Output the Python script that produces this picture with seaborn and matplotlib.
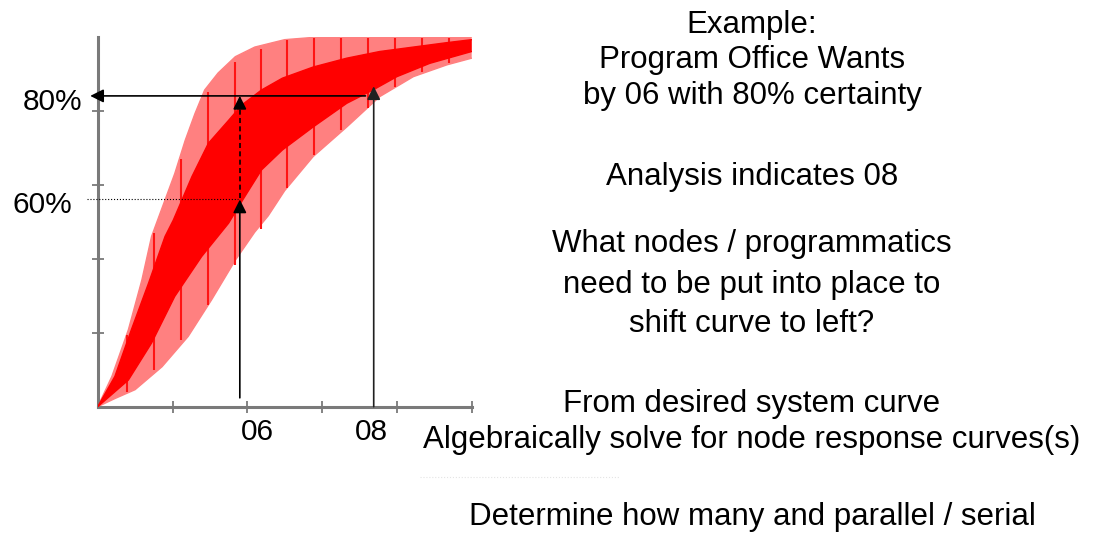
import numpy as np
import matplotlib.pyplot as plt
import seaborn as sns

# ------------------------------------------------------------------
# Dados (unidade = intervalo entre ticks, eixo 0..5)
# ------------------------------------------------------------------
light_upper_x = [0, 0.19, 0.41, 0.59, 0.72, 0.80, 1.03, 1.17, 1.30, 1.43, 1.61, 1.84, 2.10, 2.50, 3.00, 4.00, 5.00]
light_upper_y = [0, 0.41, 1.04, 1.71, 2.30, 2.52, 3.15, 3.60, 3.96, 4.28, 4.51, 4.73, 4.86, 4.96, 5.00, 5.00, 5.00]

light_lower_x = [0, 0.23, 0.50, 0.86, 1.21, 1.52, 1.84, 2.10, 2.28, 2.50, 2.88, 3.33, 3.77, 4.22, 4.67, 5.00]
light_lower_y = [0, 0.11, 0.23, 0.54, 0.95, 1.44, 1.98, 2.36, 2.58, 2.92, 3.38, 3.78, 4.19, 4.46, 4.62, 4.71]

dark_upper_x = [0, 0.23, 0.45, 0.68, 0.90, 1.01, 1.26, 1.48, 1.75, 1.93, 2.19, 2.47, 2.88, 3.33, 3.77, 4.22, 4.67, 5.00]
dark_upper_y = [0, 0.41, 1.04, 1.67, 2.30, 2.52, 3.11, 3.56, 3.87, 4.08, 4.28, 4.44, 4.59, 4.71, 4.80, 4.86, 4.92, 4.96]

dark_lower_x = [0, 0.41, 0.72, 1.03, 1.39, 1.75, 1.93, 2.19, 2.47, 2.88, 3.33, 3.68, 4.00, 4.44, 5.00]
dark_lower_y = [0, 0.36, 0.86, 1.49, 2.03, 2.48, 2.78, 3.20, 3.47, 3.78, 4.10, 4.28, 4.46, 4.64, 4.80]

# hachuras verticais dentro da faixa clara
stripe_x = [0.39, 0.75, 1.11, 1.47, 1.83, 2.18, 2.53, 2.89, 3.25, 3.61, 3.97, 4.33, 4.69]
stripe_lo = [0.20, 0.50, 0.90, 1.38, 1.92, 2.40, 2.95, 3.40, 3.74, 4.04, 4.32, 4.52, 4.64]
stripe_hi = [0.97, 2.35, 3.35, 4.25, 4.66, 4.84, 4.95, 4.98, 4.98, 4.98, 4.98, 4.98, 4.98]

# marcadores (certeza / ano)
level_labels = ['80%', '60%']
level_values = [4.20, 2.80]
year_labels = ['06', '08']
year_values = [1.90, 3.69]

right_text = [
    'Example:',
    'Program Office Wants',
    'by 06 with 80% certainty',
    'Analysis indicates 08',
    'What nodes / programmatics',
    'need to be put into place to',
    'shift curve to left?',
    'From desired system curve',
    'Algebraically solve for node response curves(s)',
    'Determine how many and parallel / serial',
]
# linha de base de cada frase (pixels a partir do topo)
right_baselines = [33, 68, 104, 185, 252, 293, 332, 412, 448, 525]

# ------------------------------------------------------------------
# Estilo
# ------------------------------------------------------------------
sns.set_theme(style='white')
plt.rcParams['font.family'] = ['Liberation Sans', 'DejaVu Sans']
plt.rcParams['text.color'] = 'black'

LIGHT = '#ff8080'
DARK = '#ff0000'
AXIS = '#7a7a7a'

W, H = 1095, 533
fig = plt.figure(figsize=(W / 100, H / 100), dpi=100)
ax = fig.add_axes([97.7 / W, 1 - 406.7 / H, 374 / W, 370 / H])
ax.set_xlim(0, 5)
ax.set_ylim(0, 5)

# faixa clara
ax.fill(light_upper_x + light_lower_x[::-1], light_upper_y + light_lower_y[::-1],
        color=LIGHT, lw=0, zorder=1)
for xs, ys in [(light_upper_x, light_upper_y), (light_lower_x, light_lower_y)]:
    sns.lineplot(x=xs, y=ys, sort=False, estimator=None, color=LIGHT, lw=1, ax=ax, zorder=1)

ax.vlines(stripe_x, stripe_lo, stripe_hi, color='#ff1414', lw=1.5, zorder=2)

# faixa escura
ax.fill(dark_upper_x + dark_lower_x[::-1], dark_upper_y + dark_lower_y[::-1],
        color=DARK, lw=0, zorder=3)
for xs, ys in [(dark_upper_x, dark_upper_y), (dark_lower_x, dark_lower_y)]:
    sns.lineplot(x=xs, y=ys, sort=False, estimator=None, color=DARK, lw=1, ax=ax, zorder=3)

# eixos
sns.despine(ax=ax)
for side in ['left', 'bottom']:
    ax.spines[side].set_color(AXIS)
    ax.spines[side].set_linewidth(2.2)
ax.set_xticks([1, 2, 3, 4, 5])
ax.set_yticks([1, 2, 3, 4])
ax.set_xticklabels([])
ax.set_yticklabels([])
ax.tick_params(axis='both', direction='inout', length=8, width=1.3, color=AXIS,
               bottom=True, left=True)
ax.set_xlabel('')
ax.set_ylabel('')

# setas
arrow_kw = dict(arrowstyle='-|>', color='black', lw=1.2, mutation_scale=20,
                shrinkA=0, shrinkB=0)
y80, y60 = level_values
x06, x08 = year_values

ax.annotate('', xy=(-0.10, y80), xytext=(3.58, y80), arrowprops=arrow_kw,
            annotation_clip=False, zorder=5)
ax.annotate('', xy=(x06, y60), xytext=(x06, 0.12), arrowprops=arrow_kw,
            annotation_clip=False, zorder=5)
ax.plot([x06, x06], [y60 + 0.02, y80 - 0.14], ls=(0, (3, 2)), color='black', lw=1.2,
        zorder=5)
ax.annotate('', xy=(x06, y80), xytext=(x06, y80 - 0.17), arrowprops=arrow_kw,
            annotation_clip=False, zorder=5)
ax.annotate('', xy=(x08, y80 + 0.13), xytext=(x08, 0.0),
            arrowprops=dict(arrow_kw, color='#202020'), annotation_clip=False, zorder=5)
ax.plot([-0.14, x06 - 0.02], [y60, y60], ls=':', lw=0.8, color='black',
        clip_on=False, zorder=5)

# linha pontilhada quase invisível sob o texto
ax.plot([4.31, 6.98], [-0.95, -0.95], ls=':', lw=0.8, color='#e4e4e4', clip_on=False)

# rótulos
ax.annotate(level_labels[0], xy=(0, y80), xytext=(-11.3, -10.2), textcoords='offset points',
            ha='right', va='baseline', fontsize=21.5, color='black', annotation_clip=False)
ax.annotate(level_labels[1], xy=(0, y60), xytext=(-18, -9.8), textcoords='offset points',
            ha='right', va='baseline', fontsize=21.5, color='black', annotation_clip=False)
ax.text(2.14, -0.45, year_labels[0], ha='center', va='baseline', fontsize=21.5, color='black')
ax.text(3.66, -0.45, year_labels[1], ha='center', va='baseline', fontsize=21.5, color='black')

for txt, yb in zip(right_text, right_baselines):
    fig.text(752 / W, 1 - yb / H, txt, ha='center', va='baseline', fontsize=22.5,
             color='black')

fig.savefig('out.png', dpi=100)
